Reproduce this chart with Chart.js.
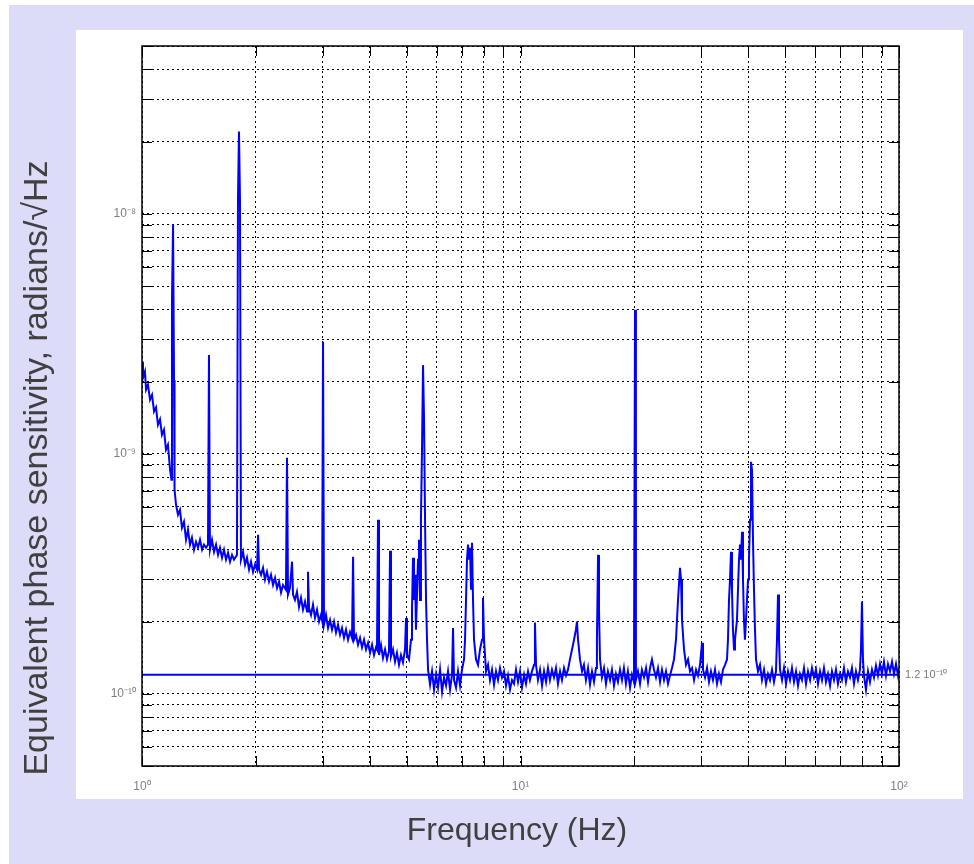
<!DOCTYPE html>
<html>
<head>
<meta charset="utf-8">
<title>Equivalent phase sensitivity</title>
<script src="https://cdn.jsdelivr.net/npm/chart.js@4.4.0/dist/chart.umd.min.js"></script>
<style>
  html, body { margin: 0; padding: 0; background: #ffffff; }
  canvas { display: block; }
</style>
</head>
<body>
<canvas id="chart" width="974" height="864"></canvas>
<script>
// Spectrum: frequency (Hz) and sensitivity (rad/sqrt(Hz))
const freqHz = [
  1.000, 1.006, 1.018, 1.025, 1.037, 1.050, 1.063, 1.076, 1.089, 1.102,
  1.116, 1.129, 1.143, 1.157, 1.171, 1.186, 1.196, 1.200, 1.208, 1.215,
  1.219, 1.230, 1.245, 1.260, 1.275, 1.291, 1.307, 1.323, 1.339, 1.355,
  1.372, 1.389, 1.406, 1.423, 1.441, 1.458, 1.476, 1.494, 1.503, 1.512,
  1.531, 1.550, 1.569, 1.588, 1.607, 1.627, 1.647, 1.667, 1.688, 1.708,
  1.729, 1.750, 1.782, 1.793, 1.804, 1.815, 1.826, 1.849, 1.872, 1.894,
  1.918, 1.941, 1.965, 1.989, 2.013, 2.026, 2.038, 2.063, 2.088, 2.113,
  2.139, 2.166, 2.192, 2.219, 2.246, 2.274, 2.302, 2.330, 2.358, 2.401,
  2.416, 2.431, 2.460, 2.491, 2.506, 2.536, 2.567, 2.599, 2.631, 2.663,
  2.696, 2.729, 2.745, 2.762, 2.796, 2.830, 2.865, 2.900, 2.936, 2.971,
  2.990, 3.008, 3.026, 3.063, 3.101, 3.139, 3.177, 3.216, 3.255, 3.295,
  3.336, 3.376, 3.417, 3.459, 3.502, 3.545, 3.588, 3.611, 3.632, 3.676,
  3.721, 3.767, 3.813, 3.860, 3.907, 3.955, 4.004, 4.053, 4.102, 4.152,
  4.177, 4.203, 4.228, 4.280, 4.332, 4.386, 4.439, 4.493, 4.522, 4.548,
  4.604, 4.661, 4.717, 4.775, 4.833, 4.892, 4.954, 4.983, 5.013, 5.075,
  5.137, 5.168, 5.200, 5.231, 5.265, 5.295, 5.361, 5.393, 5.427, 5.458,
  5.492, 5.527, 5.561, 5.595, 5.629, 5.663, 5.698,
  5.768, 5.838, 5.910, 5.982, 6.055, 6.130, 6.205, 6.280, 6.357, 6.435,
  6.514, 6.593, 6.634, 6.674, 6.756, 6.838, 6.922, 7.007, 7.092, 7.136,
  7.179, 7.222, 7.267, 7.311, 7.356, 7.400, 7.446, 7.491, 7.537, 7.629,
  7.722, 7.817, 7.912, 7.960, 8.010, 8.108, 8.207, 8.307, 8.409, 8.512,
  8.616, 8.721, 8.828, 8.936, 9.045, 9.156, 9.268, 9.382, 9.496, 9.612,
  9.730, 9.849, 9.970, 10.09, 10.22, 10.34, 10.47, 10.59, 10.72, 10.86,
  10.92, 10.99, 11.12, 11.26, 11.40, 11.54, 11.68, 11.82, 11.96, 12.11,
  12.26, 12.41, 12.56, 12.72, 12.87, 13.03, 13.19, 13.35, 13.51, 13.68,
  13.85, 14.01, 14.10, 14.19, 14.36, 14.54, 14.71, 14.89, 15.08, 15.26,
  15.45, 15.64, 15.83, 15.92, 16.03, 16.12, 16.22, 16.41, 16.62, 16.82,
  17.02, 17.24, 17.44, 17.66, 17.87, 18.09, 18.32, 18.54, 18.76, 18.99,
  19.22, 19.47, 19.70, 19.94, 20.07, 20.18, 20.43, 20.69, 20.93, 21.20,
  21.46, 21.72, 21.99, 22.25, 22.53, 22.80, 23.08, 23.37, 23.65, 23.94,
  24.23, 24.53, 24.83, 25.13, 25.44, 25.75, 26.07, 26.39, 26.55, 26.71,
  27.04, 27.37, 27.71, 28.04, 28.39, 28.74, 29.09, 29.44, 29.80, 30.17,
  30.35, 30.73, 31.10, 31.48, 31.86, 32.25, 32.65, 33.05, 33.45, 33.86,
  34.27, 34.70, 35.12, 35.33, 35.55, 35.77, 35.99, 36.20, 36.42, 36.65,
  36.87, 37.32, 37.55, 37.78, 38.01, 38.24, 38.48, 38.71, 38.94, 39.18,
  39.42, 39.66, 39.91, 40.15, 40.40, 40.64, 40.89, 41.14, 41.39, 41.64,
  41.90, 42.41, 42.93, 43.45, 43.99, 44.53, 45.07, 45.62, 46.18, 46.74,
  47.31, 47.60, 47.90, 48.19, 48.48, 49.08, 49.68, 50.29, 50.90, 51.52,
  52.15, 52.79, 53.44, 54.09, 54.75, 55.42, 56.10, 56.79, 57.48, 58.21,
  58.90, 59.62, 60.35, 61.09, 61.86, 62.59, 63.35, 64.13, 64.91, 65.73,
  66.51, 67.33, 68.15, 68.98, 69.84, 70.68, 71.55, 72.42, 73.31, 74.22,
  75.11, 76.03, 76.96, 77.90, 78.86, 79.34, 79.83, 80.32, 80.81, 81.80,
  82.80, 83.81, 84.84, 85.88, 86.93, 87.99, 89.07, 90.16, 91.26, 92.38,
  93.51, 94.67, 95.83, 97.00, 98.19, 99.39, 100.0
];

const sensitivity = [
  2.42e-9, 2.07e-9, 2.20e-9, 1.85e-9, 1.94e-9, 1.68e-9, 1.76e-9, 1.50e-9, 1.56e-9, 1.32e-9,
  1.39e-9, 1.20e-9, 1.26e-9, 1.04e-9, 1.09e-9, 8.58e-10, 7.79e-10, 4.38e-9, 9.0e-9, 2.03e-9,
  7.08e-10, 6.13e-10, 5.57e-10, 5.84e-10, 4.92e-10, 5.21e-10, 4.38e-10, 4.83e-10, 4.18e-10, 4.47e-10,
  3.98e-10, 4.30e-10, 4.06e-10, 4.38e-10, 3.98e-10, 4.18e-10, 4.06e-10, 4.18e-10, 2.58e-9, 3.98e-10,
  4.38e-10, 3.90e-10, 4.18e-10, 3.79e-10, 4.06e-10, 3.69e-10, 3.98e-10, 3.62e-10, 3.87e-10, 3.55e-10,
  3.79e-10, 3.62e-10, 3.79e-10, 1.14e-8, 2.20e-8, 1.14e-8, 3.62e-10, 3.90e-10, 3.45e-10, 3.69e-10,
  3.29e-10, 3.55e-10, 3.22e-10, 3.45e-10, 3.29e-10, 4.60e-10, 3.29e-10, 3.13e-10, 3.35e-10, 2.99e-10,
  3.22e-10, 2.93e-10, 3.13e-10, 2.84e-10, 3.04e-10, 2.76e-10, 2.93e-10, 2.64e-10, 2.84e-10, 2.71e-10,
  9.62e-10, 2.59e-10, 2.76e-10, 3.55e-10, 2.59e-10, 2.46e-10, 2.66e-10, 2.30e-10, 2.51e-10, 2.24e-10,
  2.42e-10, 2.20e-10, 3.22e-10, 2.28e-10, 2.13e-10, 2.35e-10, 2.07e-10, 2.24e-10, 2.00e-10, 2.13e-10,
  2.03e-10, 2.93e-9, 1.94e-10, 2.13e-10, 1.88e-10, 2.03e-10, 1.85e-10, 2.00e-10, 1.80e-10, 1.94e-10,
  1.76e-10, 1.88e-10, 1.71e-10, 1.85e-10, 1.68e-10, 1.81e-10, 1.71e-10, 3.72e-10, 1.68e-10, 1.76e-10,
  1.60e-10, 1.71e-10, 1.56e-10, 1.68e-10, 1.53e-10, 1.63e-10, 1.48e-10, 1.60e-10, 1.45e-10, 1.56e-10,
  1.53e-10, 5.31e-10, 1.45e-10, 1.60e-10, 1.41e-10, 1.53e-10, 1.39e-10, 1.50e-10, 3.94e-10, 1.43e-10,
  1.53e-10, 1.36e-10, 1.48e-10, 1.32e-10, 1.45e-10, 1.35e-10, 1.53e-10, 2.07e-10, 1.45e-10, 1.39e-10,
  1.68e-10, 2.24e-10, 3.69e-10, 2.46e-10, 3.13e-10, 1.85e-10, 3.62e-10, 4.38e-10, 2.46e-10, 5.31e-10,
  1.04e-9, 2.34e-9, 1.39e-9, 5.31e-10, 2.46e-10, 1.68e-10, 1.26e-10,
  1.09e-10, 1.24e-10, 1.04e-10, 1.20e-10, 1.06e-10, 1.26e-10, 1.02e-10, 1.17e-10, 1.08e-10, 1.24e-10,
  1.04e-10, 1.20e-10, 1.88e-10, 1.14e-10, 1.06e-10, 1.24e-10, 1.08e-10, 1.26e-10, 1.39e-10, 1.68e-10,
  2.46e-10, 3.62e-10, 4.18e-10, 3.62e-10, 4.06e-10, 2.71e-10, 4.26e-10, 2.46e-10, 1.68e-10, 1.39e-10,
  1.32e-10, 1.53e-10, 1.68e-10, 2.51e-10, 1.68e-10, 1.24e-10, 1.32e-10, 1.14e-10, 1.26e-10, 1.09e-10,
  1.24e-10, 1.14e-10, 1.28e-10, 1.17e-10, 1.24e-10, 1.08e-10, 1.19e-10, 1.04e-10, 1.14e-10, 1.10e-10,
  1.26e-10, 1.12e-10, 1.24e-10, 1.06e-10, 1.20e-10, 1.10e-10, 1.24e-10, 1.14e-10, 1.24e-10, 1.32e-10,
  1.98e-10, 1.32e-10, 1.14e-10, 1.26e-10, 1.08e-10, 1.24e-10, 1.12e-10, 1.28e-10, 1.14e-10, 1.26e-10,
  1.17e-10, 1.28e-10, 1.10e-10, 1.24e-10, 1.14e-10, 1.28e-10, 1.19e-10, 1.26e-10, 1.39e-10, 1.53e-10,
  1.68e-10, 1.85e-10, 2.00e-10, 1.68e-10, 1.39e-10, 1.24e-10, 1.32e-10, 1.14e-10, 1.28e-10, 1.09e-10,
  1.24e-10, 1.12e-10, 1.28e-10, 1.68e-10, 3.79e-10, 2.24e-10, 1.39e-10, 1.17e-10, 1.28e-10, 1.10e-10,
  1.24e-10, 1.14e-10, 1.26e-10, 1.08e-10, 1.21e-10, 1.12e-10, 1.26e-10, 1.14e-10, 1.28e-10, 1.10e-10,
  1.24e-10, 1.06e-10, 1.20e-10, 1.12e-10, 3.98e-9, 1.14e-10, 1.24e-10, 1.10e-10, 1.26e-10, 1.17e-10,
  1.28e-10, 1.12e-10, 1.28e-10, 1.39e-10, 1.26e-10, 1.17e-10, 1.28e-10, 1.12e-10, 1.26e-10, 1.14e-10,
  1.24e-10, 1.10e-10, 1.19e-10, 1.28e-10, 1.39e-10, 1.68e-10, 2.46e-10, 3.35e-10, 2.99e-10, 2.03e-10,
  1.53e-10, 1.32e-10, 1.39e-10, 1.24e-10, 1.28e-10, 1.14e-10, 1.26e-10, 1.19e-10, 1.32e-10, 1.63e-10,
  1.26e-10, 1.17e-10, 1.28e-10, 1.12e-10, 1.24e-10, 1.14e-10, 1.26e-10, 1.10e-10, 1.21e-10, 1.12e-10,
  1.26e-10, 1.32e-10, 1.39e-10, 1.68e-10, 2.46e-10, 2.99e-10, 3.90e-10, 2.71e-10, 1.85e-10, 1.53e-10,
  1.68e-10, 2.03e-10, 2.71e-10, 3.62e-10, 4.18e-10, 3.62e-10, 4.73e-10, 2.99e-10, 2.03e-10, 1.68e-10,
  2.03e-10, 2.46e-10, 2.99e-10, 3.62e-10, 5.31e-10, 9.26e-10, 8.58e-10, 4.38e-10, 2.71e-10, 1.85e-10,
  1.39e-10, 1.24e-10, 1.32e-10, 1.14e-10, 1.26e-10, 1.10e-10, 1.21e-10, 1.14e-10, 1.26e-10, 1.12e-10,
  1.24e-10, 1.68e-10, 2.59e-10, 1.68e-10, 1.26e-10, 1.14e-10, 1.28e-10, 1.10e-10, 1.24e-10, 1.14e-10,
  1.28e-10, 1.12e-10, 1.24e-10, 1.08e-10, 1.21e-10, 1.14e-10, 1.28e-10, 1.10e-10, 1.24e-10, 1.14e-10,
  1.28e-10, 1.17e-10, 1.26e-10, 1.10e-10, 1.24e-10, 1.14e-10, 1.28e-10, 1.12e-10, 1.21e-10, 1.08e-10,
  1.24e-10, 1.14e-10, 1.26e-10, 1.10e-10, 1.21e-10, 1.14e-10, 1.28e-10, 1.12e-10, 1.24e-10, 1.17e-10,
  1.28e-10, 1.10e-10, 1.24e-10, 1.14e-10, 1.26e-10, 1.53e-10, 2.42e-10, 1.39e-10, 1.19e-10, 1.04e-10,
  1.24e-10, 1.12e-10, 1.26e-10, 1.17e-10, 1.31e-10, 1.19e-10, 1.33e-10, 1.21e-10, 1.36e-10, 1.19e-10,
  1.33e-10, 1.24e-10, 1.36e-10, 1.21e-10, 1.33e-10, 1.19e-10, 1.28e-10
];

// Reference level drawn as a flat line
const refLevel = 1.2e-10;
const refLabel = '1.2 10\u207B\u00B9\u2070';

// Axis ticks (every minor position gets a grid line, decades get a label)
const xTicks = [1, 2, 3, 4, 5, 6, 7, 8, 9, 10, 20, 30, 40, 50, 60, 70, 80, 90, 100];
const yTicks = [
  5e-11, 6e-11, 7e-11, 8e-11, 9e-11,
  1e-10, 2e-10, 3e-10, 4e-10, 5e-10, 6e-10, 7e-10, 8e-10, 9e-10,
  1e-9, 2e-9, 3e-9, 4e-9, 5e-9, 6e-9, 7e-9, 8e-9, 9e-9,
  1e-8, 2e-8, 3e-8, 4e-8, 5e-8
];
const xDecades = [1, 10, 100];
const xDecadeLabels = ['10\u2070', '10\u00B9', '10\u00B2'];
const yDecades = [1e-10, 1e-9, 1e-8];
const yDecadeLabels = ['10\u207B\u00B9\u2070', '10\u207B\u2079', '10\u207B\u2078'];

const xTitle = 'Frequency (Hz)';
const yTitle = 'Equivalent phase sensitivity, radians/\u221AHz';

const FONT = '"Liberation Sans", Arial, Helvetica, sans-serif';

function decadeLabel(value, decades, labels) {
    const i = decades.findIndex(d => Math.abs(value / d - 1) < 1e-6);
    return i >= 0 ? labels[i] : '';
}

// Backgrounds, frame, inward ticks, level label and axis titles
const framePlugin = {
    id: 'frame',
    beforeDraw(chart) {
        const ctx = chart.ctx;
        ctx.save();
        ctx.fillStyle = '#ffffff';
        ctx.fillRect(0, 0, chart.width, chart.height);
        ctx.fillStyle = '#dcdcf8';
        ctx.fillRect(9, 5, chart.width - 9, chart.height - 5);
        ctx.fillStyle = '#ffffff';
        ctx.fillRect(76, 30, 887, 769);
        ctx.restore();
    },
    afterDraw(chart) {
        const {ctx, chartArea: a, scales: {x, y}} = chart;
        const len = 10;
        ctx.save();
        ctx.strokeStyle = '#000000';
        ctx.lineWidth = 1;
        ctx.beginPath();
        xTicks.forEach(v => {
            const px = Math.round(x.getPixelForValue(v)) + 0.5;
            ctx.moveTo(px, a.bottom);
            ctx.lineTo(px, a.bottom - len);
            ctx.moveTo(px, a.top);
            ctx.lineTo(px, a.top + len);
        });
        yTicks.forEach(v => {
            const py = Math.round(y.getPixelForValue(v)) + 0.5;
            ctx.moveTo(a.left, py);
            ctx.lineTo(a.left + len, py);
            ctx.moveTo(a.right, py);
            ctx.lineTo(a.right - len, py);
        });
        ctx.stroke();
        ctx.lineWidth = 1.5;
        ctx.strokeRect(a.left, a.top, a.right - a.left, a.bottom - a.top);

        ctx.fillStyle = '#7a7a7a';
        ctx.font = '11px ' + FONT;
        ctx.textAlign = 'left';
        ctx.textBaseline = 'middle';
        ctx.fillText(refLabel, a.right + 6, y.getPixelForValue(refLevel));

        ctx.fillStyle = '#404040';
        ctx.font = '32px ' + FONT;
        ctx.textAlign = 'center';
        ctx.fillText(xTitle, 517, 831);
        ctx.font = '34px ' + FONT;
        ctx.translate(38, 468);
        ctx.rotate(-Math.PI / 2);
        ctx.fillText(yTitle, 0, 0);
        ctx.restore();
    }
};

new Chart(document.getElementById('chart'), {
    type: 'line',
    data: {
        datasets: [
            {
                label: 'Phase sensitivity',
                data: freqHz.map((f, i) => ({x: f, y: sensitivity[i]})),
                borderColor: '#0000ff',
                borderWidth: 2,
                pointRadius: 0,
                tension: 0
            },
            {
                label: 'Level',
                data: [{x: xTicks[0], y: refLevel}, {x: xTicks[xTicks.length - 1], y: refLevel}],
                borderColor: '#0000ff',
                borderWidth: 2,
                pointRadius: 0
            }
        ]
    },
    options: {
        responsive: false,
        animation: false,
        layout: { padding: { top: 46, right: 75, left: 0, bottom: 0 } },
        plugins: {
            legend: { display: false },
            tooltip: { enabled: false }
        },
        scales: {
            x: {
                type: 'logarithmic',
                min: 1,
                max: 100,
                afterBuildTicks: s => { s.ticks = xTicks.map(v => ({value: v})); },
                afterFit: s => { s.height = 98; },
                grid: { color: '#000000', lineWidth: 1, drawTicks: false },
                border: { display: false, dash: [2, 3] },
                ticks: {
                    autoSkip: false,
                    maxRotation: 0,
                    padding: 13,
                    color: '#808080',
                    font: { size: 12, family: FONT },
                    callback: v => decadeLabel(v, xDecades, xDecadeLabels)
                }
            },
            y: {
                type: 'logarithmic',
                min: 5e-11,
                max: 5e-8,
                afterBuildTicks: s => { s.ticks = yTicks.map(v => ({value: v})); },
                afterFit: s => { s.width = 142; },
                grid: { color: '#000000', lineWidth: 1, drawTicks: false },
                border: { display: false, dash: [2, 3] },
                ticks: {
                    autoSkip: false,
                    padding: 6,
                    color: '#808080',
                    font: { size: 12, family: FONT },
                    callback: v => decadeLabel(v, yDecades, yDecadeLabels)
                }
            }
        }
    },
    plugins: [framePlugin]
});
</script>
</body>
</html>
